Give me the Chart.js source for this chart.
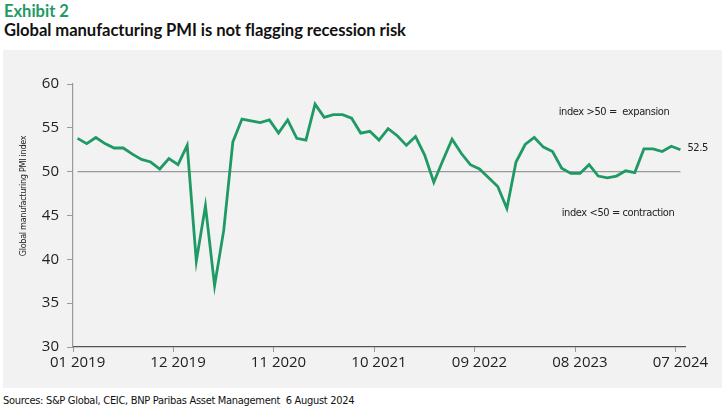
<!DOCTYPE html>
<html>
<head>
<meta charset="utf-8">
<script src="https://cdn.jsdelivr.net/npm/chart.js@4.4.1/dist/chart.umd.min.js"></script>
<style>
  html, body { margin: 0; padding: 0; background: #ffffff; width: 725px; height: 417px; overflow: hidden; }
  #exhibit { position: absolute; left: 4px; top: 1px; font-family: Lato, "Open Sans", sans-serif; font-weight: 700; font-size: 16.5px; color: #1f9a64; }
  #title { position: absolute; left: 4px; top: 20px; font-family: Lato, "Open Sans", sans-serif; font-weight: 700; font-size: 16.6px; letter-spacing: -0.05px; color: #111; white-space: nowrap; }
  #panel { position: absolute; left: 3px; top: 50px; width: 719px; height: 338px; background: #f2f2f2; }
  #source { position: absolute; left: 3px; top: 394px; font-family: "Liberation Sans Narrow", "DejaVu Sans Condensed", sans-serif; font-size: 11px; letter-spacing: -0.3px; color: #111; white-space: nowrap; }
</style>
</head>
<body>
<div id="exhibit">Exhibit 2</div>
<div id="title">Global manufacturing PMI is not flagging recession risk</div>
<div id="panel"><canvas id="c"></canvas></div>
<div id="source">Sources: S&amp;P Global, CEIC, BNP Paribas Asset Management&nbsp; 6 August 2024</div>
<script>
const months = [
  "01 2019","02 2019","03 2019","04 2019","05 2019","06 2019","07 2019","08 2019","09 2019","10 2019","11 2019","12 2019",
  "01 2020","02 2020","03 2020","04 2020","05 2020","06 2020","07 2020","08 2020","09 2020","10 2020","11 2020","12 2020",
  "01 2021","02 2021","03 2021","04 2021","05 2021","06 2021","07 2021","08 2021","09 2021","10 2021","11 2021","12 2021",
  "01 2022","02 2022","03 2022","04 2022","05 2022","06 2022","07 2022","08 2022","09 2022","10 2022","11 2022","12 2022",
  "01 2023","02 2023","03 2023","04 2023","05 2023","06 2023","07 2023","08 2023","09 2023","10 2023","11 2023","12 2023",
  "01 2024","02 2024","03 2024","04 2024","05 2024","06 2024","07 2024"
];
const pmi = [
  53.8,53.2,53.9,53.2,52.7,52.7,52.0,51.4,51.1,50.3,51.5,50.8,
  53.0,39.8,46.1,37.0,43.3,53.4,56.0,55.8,55.6,55.9,54.4,55.9,
  53.8,53.6,57.7,56.2,56.5,56.5,56.1,54.4,54.6,53.6,54.9,54.1,
  53.0,54.0,51.9,48.8,51.3,53.7,52.1,50.8,50.3,49.3,48.3,45.8,
  51.1,53.1,53.9,52.8,52.3,50.4,49.8,49.8,50.8,49.5,49.3,49.5,
  50.1,49.9,52.6,52.6,52.3,52.9,52.5
];
const threshold = [50];
const labelEvery = 11;
const yTicks = [30, 35, 40, 45, 50, 55, 60];
const yTitle = "Global manufacturing PMI index";
const noteAbove = "index >50 =  expansion";
const noteBelow = "index <50 = contraction";
const lastLabel = "52.5";

const thresholdLine = months.map(() => threshold[0]);
const narrow = '"Liberation Sans Narrow", "DejaVu Sans Condensed", sans-serif';

const notesPlugin = {
  id: 'notes',
  afterDatasetsDraw(chart) {
    const {ctx, scales: {x, y}} = chart;
    ctx.save();
    ctx.fillStyle = '#222';
    ctx.font = '9px ' + narrow;
    if ('letterSpacing' in ctx) ctx.letterSpacing = '-0.3px';
    ctx.textAlign = 'center';
    ctx.textBaseline = 'middle';
    ctx.translate(21, 146);
    ctx.rotate(-Math.PI / 2);
    ctx.fillText(yTitle, 0, 0);
    ctx.restore();

    ctx.save();
    ctx.fillStyle = '#222';
    ctx.font = '11px ' + narrow;
    if ('letterSpacing' in ctx) ctx.letterSpacing = '-0.4px';
    ctx.textAlign = 'center';
    ctx.textBaseline = 'middle';
    ctx.fillText(noteAbove, 611, 62);
    ctx.fillText(noteBelow, 615, 163);
    const li = pmi.length - 1;
    ctx.textAlign = 'left';
    ctx.fillText(lastLabel, x.getPixelForValue(li) + 7, y.getPixelForValue(pmi[li]) - 2);
    ctx.restore();
  }
};

new Chart(document.getElementById('c'), {
  type: 'line',
  data: {
    labels: months,
    datasets: [
      { data: pmi, borderColor: '#1f9a64', borderWidth: 2.8, pointRadius: 0, tension: 0, order: 0 },
      { data: thresholdLine, borderColor: '#999999', borderWidth: 1.3, pointRadius: 0, tension: 0, order: 1 }
    ]
  },
  options: {
    responsive: true,
    maintainAspectRatio: false,
    animation: false,
    events: [],
    layout: { padding: { top: 34, right: 37, left: 0, bottom: 0 } },
    plugins: { legend: { display: false }, tooltip: { enabled: false } },
    scales: {
      x: {
        type: 'category',
        offset: true,
        afterFit(s) { s.height = 41; },
        grid: {
          offset: true,
          drawOnChartArea: false,
          tickLength: 5,
          tickColor: (c) => (c.index % labelEvery === 0 ? '#999' : 'rgba(0,0,0,0)')
        },
        border: { color: '#555', width: 1.2 },
        ticks: {
          autoSkip: false,
          maxRotation: 0,
          minRotation: 0,
          padding: 2,
          color: '#222',
          font: { family: '"Open Sans", sans-serif', size: 15 },
          callback(v, i) { return i % labelEvery === 0 ? months[i] : ''; }
        }
      },
      y: {
        min: 30,
        max: 60,
        afterFit(s) { s.width = 70; },
        afterBuildTicks(s) { s.ticks = yTicks.map(v => ({ value: v })); },
        grid: { drawOnChartArea: false, tickLength: 6, color: '#999' },
        border: { color: '#999', width: 1.2 },
        ticks: {
          padding: 8,
          color: '#222',
          font: { family: '"Open Sans", sans-serif', size: 15 }
        }
      }
    }
  },
  plugins: [notesPlugin]
});
</script>
</body>
</html>
